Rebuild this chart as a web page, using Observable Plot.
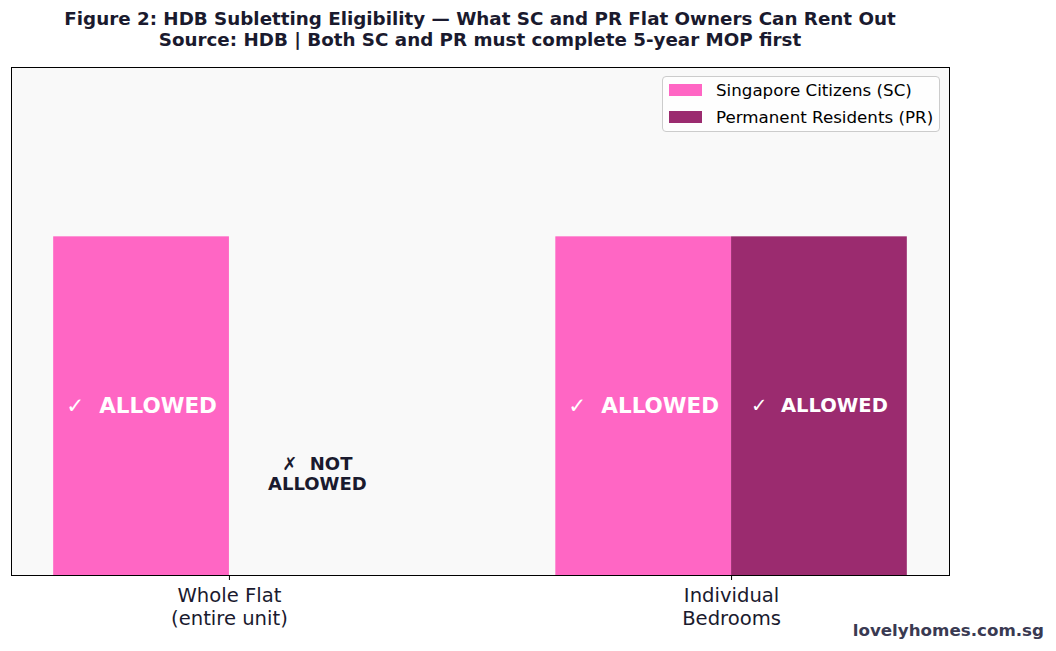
<!DOCTYPE html>
<html>
<head>
<meta charset="utf-8">
<script src="https://cdn.jsdelivr.net/npm/d3@7"></script>
<script src="https://cdn.jsdelivr.net/npm/@observablehq/plot@0.6"></script>
<style>
  html, body { margin: 0; padding: 0; background: #ffffff; }
  #wrap { position: relative; width: 1056px; height: 651px; font-family: "DejaVu Sans", sans-serif; }
  #title { width: 960px; height: 58px; box-sizing: border-box; padding-top: 8px; text-align: center;
           font-weight: bold; font-size: 18.3px; line-height: 21px; color: #1a1a2e; }
  #legend { position: absolute; left: 662px; top: 76px; width: 278px; height: 56px; box-sizing: border-box;
            border: 1px solid #cccccc; border-radius: 4px; background: rgba(255,255,255,0.85);
            font-size: 16.7px; color: #000; }
  .row { position: absolute; left: 6px; display: flex; align-items: center; }
  .sw { width: 33px; height: 12px; margin-right: 14px; }
  #mark { position: absolute; right: 12px; top: 620px; font-weight: bold; font-size: 16.7px; color: #3a3a52; }
</style>
</head>
<body>
<div id="wrap">
  <div id="title"></div>
  <div id="chart"></div>
  <div id="legend"></div>
  <div id="mark">lovelyhomes.com.sg</div>
</div>
<script>
// ---- data ----
const titleLines = [
  "Figure 2: HDB Subletting Eligibility — What SC and PR Flat Owners Can Rent Out",
  "Source: HDB | Both SC and PR must complete 5-year MOP first"
];
const categories = ["Whole Flat\n(entire unit)", "Individual\nBedrooms"];
const seriesNames = ["Singapore Citizens (SC)", "Permanent Residents (PR)"];
const seriesColors = ["#ff66c4", "#9b2b6f"];
const scValues = [1, 1];
const prValues = [0, 1];
const scLabels = ["✓  ALLOWED", "✓  ALLOWED"];
const prLabels = ["✗  NOT\nALLOWED", "✓  ALLOWED"];

// ---- build ----
document.getElementById("title").innerHTML = titleLines.map(t => `<div>${t}</div>`).join("");
document.getElementById("legend").innerHTML = seriesNames.map((n, i) =>
  `<div class="row" style="top:${3 + i * 27}px"><div class="sw" style="background:${seriesColors[i]}"></div><span>${n}</span></div>`
).join("");

const barW = 0.35;
const rows = [];
categories.forEach((c, i) => {
  rows.push({i, s: 0, v: scValues[i], label: scLabels[i]});
  rows.push({i, s: 1, v: prValues[i], label: prLabels[i]});
});
const bars = rows.filter(d => d.v > 0);
const xOf = d => d.s === 0 ? d.i - barW / 2 : d.i + barW / 2;

const plot = Plot.plot({
  width: 1056,
  height: 593,
  marginTop: 9,
  marginBottom: 76,
  marginLeft: 11,
  marginRight: 107,
  style: {fontFamily: "DejaVu Sans, sans-serif", color: "#1a1a2e", background: "transparent"},
  x: {domain: [-0.434, 1.434], axis: null},
  y: {domain: [0, 1.5], axis: null},
  marks: [
    Plot.frame({fill: "#f9f9f9", stroke: null}),
    Plot.rect(bars, {
      x1: d => d.s === 0 ? d.i - barW : d.i,
      x2: d => d.s === 0 ? d.i : d.i + barW,
      y1: 0, y2: "v",
      fill: d => seriesColors[d.s]
    }),
    Plot.text(rows.filter(d => d.v > 0 && d.s === 0), {
      x: xOf, y: d => d.v / 2, text: "label",
      fill: "white", fontWeight: "bold", fontSize: 21.5
    }),
    Plot.text(rows.filter(d => d.v > 0 && d.s === 1), {
      x: xOf, y: d => d.v / 2, text: "label",
      fill: "white", fontWeight: "bold", fontSize: 19.5
    }),
    Plot.text(rows.filter(d => d.v === 0), {
      x: xOf, y: 0.3, text: "label",
      fill: "#1a1a2e", fontWeight: "bold", fontSize: 18, lineHeight: 1.1
    }),
    Plot.axisX({
      ticks: [0, 1],
      tickFormat: i => categories[i],
      tickSize: 5,
      tickPadding: 6,
      fontSize: 19.6,
      lineHeight: 1.14,
      stroke: "black",
      fill: "#1a1a2e"
    }),
    Plot.frame({stroke: "black", strokeWidth: 1})
  ]
});
document.getElementById("chart").appendChild(plot);
</script>
</body>
</html>
